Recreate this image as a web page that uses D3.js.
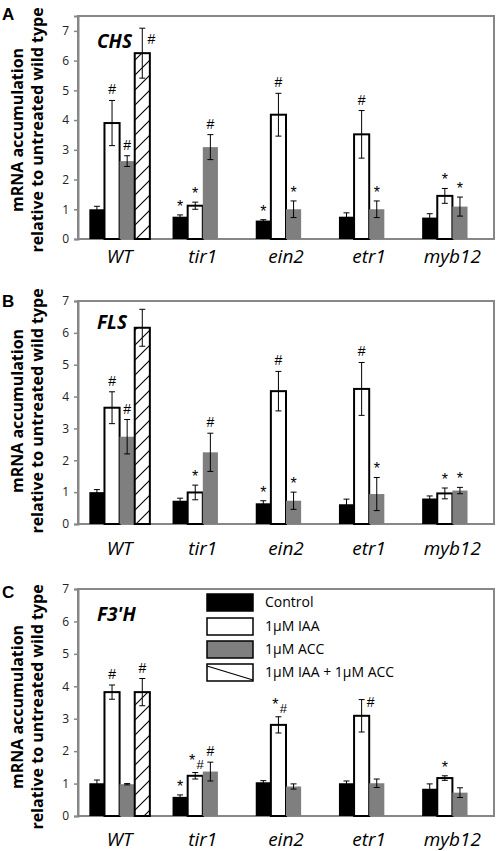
<!DOCTYPE html>
<html><head><meta charset="utf-8">
<script src="https://cdn.jsdelivr.net/npm/d3@7"></script>
<style>body{margin:0;background:#fff} svg{display:block}</style>
</head><body>
<script>
// ---------------- DATA ----------------
const categories = ["WT", "tir1", "ein2", "etr1", "myb12"];
const seriesNames = ["Control", "1\u03bcM IAA", "1\u03bcM ACC", "1\u03bcM IAA + 1\u03bcM ACC"];
const yTicks = [0, 1, 2, 3, 4, 5, 6, 7];
const panelLetters = ["A", "B", "C"];
const geneNames = ["CHS", "FLS", "F3'H"];

// Panel A : CHS
const chsControl = [1.00, 0.75, 0.62, 0.75, 0.72];
const chsControlErr = [0.10, 0.06, 0.03, 0.13, 0.13];
const chsIAA = [3.90, 1.12, 4.18, 3.52, 1.45];
const chsIAAErr = [0.76, 0.12, 0.72, 0.80, 0.25];
const chsACC = [2.62, 3.09, 1.00, 1.00, 1.09];
const chsACCErr = [0.18, 0.42, 0.28, 0.28, 0.32];
const chsBoth = [6.25, null, null, null, null];
const chsBothErr = [0.84, null, null, null, null];
const chsMarks = [["", "*", "*", "", ""], ["#", "*", "#", "#", "*"], ["#", "#", "*", "*", "*"], ["#", "", "", "", ""]];

// Panel B : FLS
const flsControl = [1.00, 0.73, 0.65, 0.62, 0.80];
const flsControlErr = [0.08, 0.08, 0.08, 0.16, 0.08];
const flsIAA = [3.65, 0.99, 4.17, 4.24, 0.96];
const flsIAAErr = [0.50, 0.23, 0.62, 0.83, 0.17];
const flsACC = [2.74, 2.25, 0.73, 0.94, 1.05];
const flsACCErr = [0.54, 0.60, 0.27, 0.52, 0.10];
const flsBoth = [6.16, null, null, null, null];
const flsBothErr = [0.58, null, null, null, null];
const flsMarks = [["", "", "*", "", ""], ["#", "*", "#", "#", "*"], ["#", "#", "*", "*", "*"], ["", "", "", "", ""]];

// Panel C : F3'H
const f3hControl = [1.01, 0.59, 1.04, 1.01, 0.84];
const f3hControlErr = [0.10, 0.06, 0.05, 0.07, 0.15];
const f3hIAA = [3.82, 1.24, 2.81, 3.09, 1.17];
const f3hIAAErr = [0.22, 0.10, 0.25, 0.50, 0.07];
const f3hACC = [0.98, 1.37, 0.91, 1.01, 0.72];
const f3hACCErr = [0.02, 0.29, 0.08, 0.13, 0.15];
const f3hBoth = [3.82, null, null, null, null];
const f3hBothErr = [0.42, null, null, null, null];
const f3hMarks = [["", "*", "", "", ""], ["#", "*#", "*#", "#", "*"], ["", "#", "", "", ""], ["#", "", "", "", ""]];

// ---------------- LAYOUT ----------------
const W = 498, H = 851;
const plotLeft = 78, plotRight = 494;
const fills = ["#000000", "#ffffff", "#7f7f7f", "url(#hatch)"];
const strokes = ["none", "#000", "none", "#000"];

const panels = [
  { values: [chsControl, chsIAA, chsACC, chsBoth], errs: [chsControlErr, chsIAAErr, chsACCErr, chsBothErr], marks: chsMarks,
    top: 16, bottom: 239, max: 7.5, letterY: 20, geneY: 48, catY: 263, titleY: 130 },
  { values: [flsControl, flsIAA, flsACC, flsBoth], errs: [flsControlErr, flsIAAErr, flsACCErr, flsBothErr], marks: flsMarks,
    top: 301, bottom: 524, max: 7, letterY: 307, geneY: 329, catY: 555, titleY: 411 },
  { values: [f3hControl, f3hIAA, f3hACC, f3hBoth], errs: [f3hControlErr, f3hIAAErr, f3hACCErr, f3hBothErr], marks: f3hMarks,
    top: 589, bottom: 816, max: 7, letterY: 598, geneY: 621, catY: 846, titleY: 707, legend: true }
];
// special placement of a few significance marks (panel-category-series)
const markShift = { "0-0-3": { dx: 9, dy: 16 }, "2-3-1": { dx: 9, dy: 7 } };

const svg = d3.select("body").append("svg").attr("width", W).attr("height", H);
const defs = svg.append("defs");
const pat = defs.append("pattern").attr("id", "hatch").attr("patternUnits", "userSpaceOnUse")
  .attr("width", 15).attr("height", 15);
pat.append("rect").attr("width", 15).attr("height", 15).attr("fill", "#fff");
pat.append("path").attr("d", "M-3,18 L18,-3 M-3,3 L3,-3 M12,18 L18,12")
  .attr("stroke", "#000").attr("stroke-width", 1.1);

const x0 = d3.scaleBand().domain(categories).range([plotLeft, plotRight]).paddingInner(0).paddingOuter(0);
const x1 = d3.scaleBand().domain(d3.range(4)).range([0, x0.bandwidth()]).paddingInner(0).paddingOuter(0.75);

panels.forEach((p, pi) => {
  const g = svg.append("g");
  const y = d3.scaleLinear().domain([0, p.max]).range([p.bottom, p.top]);

  // frame
  g.append("rect").attr("x", plotLeft).attr("y", p.top).attr("width", plotRight - plotLeft)
    .attr("height", p.bottom - p.top).attr("fill", "none").attr("stroke", "#878787").attr("stroke-width", 2);

  // y axis
  const ax = g.append("g").attr("transform", `translate(${plotLeft},0)`)
    .call(d3.axisLeft(y).tickValues(yTicks).tickSize(4).tickPadding(5).tickFormat(d3.format("d")));
  ax.select(".domain").attr("stroke", "#878787").attr("stroke-width", 2);
  ax.selectAll(".tick line").attr("stroke", "#878787").attr("stroke-width", 1.5);
  ax.selectAll(".tick text").attr("font-family", "Open Sans").attr("font-size", 12).attr("fill", "#222");

  // bars
  p.values.forEach((vals, si) => {
    vals.forEach((v, ci) => {
      if (v == null) return;
      const bx = x0(categories[ci]) + x1(si);
      const bw = x1.bandwidth();
      g.append("rect").attr("x", bx).attr("y", y(v)).attr("width", bw).attr("height", y(0) - y(v))
        .attr("fill", fills[si]).attr("stroke", strokes[si]).attr("stroke-width", 2);
    });
  });
  // error bars and marks
  p.values.forEach((vals, si) => {
    vals.forEach((v, ci) => {
      if (v == null) return;
      const e = p.errs[si][ci];
      const cx = x0(categories[ci]) + x1(si) + x1.bandwidth() / 2;
      const yT = y(v + e), yB = y(v - e);
      g.append("path").attr("d", `M${cx},${yT}V${yB}M${cx - 3},${yT}H${cx + 3}M${cx - 3},${yB}H${cx + 3}`)
        .attr("stroke", "#000").attr("stroke-width", 1).attr("fill", "none");
      const m = p.marks[si][ci];
      if (!m) return;
      const key = `${pi}-${ci}-${si}`;
      const mt = g.append("g").attr("font-family", "Liberation Sans").attr("fill", "#000");
      if (m === "*#") {
        mt.append("text").attr("x", cx - 3).attr("y", yT - 7).attr("text-anchor", "middle").attr("font-size", 16).text("*");
        mt.append("text").attr("x", cx + 5).attr("y", yT - 4).attr("text-anchor", "middle").attr("font-size", 13).text("#");
      } else {
        const s = markShift[key];
        const dx = s ? s.dx : 0;
        const by = s ? yT + s.dy : (m === "*" ? yT - 3 : yT - 6);
        mt.append("text").attr("x", cx + dx).attr("y", by).attr("text-anchor", "middle")
          .attr("font-size", m === "#" ? 14 : 16).text(m);
      }
    });
  });

  // category labels
  g.selectAll(".cat").data(categories).enter().append("text")
    .attr("x", d => x0(d) + x0.bandwidth() / 2).attr("y", p.catY)
    .attr("text-anchor", "middle").attr("font-family", "Open Sans").attr("font-style", "italic")
    .attr("font-size", 19).attr("fill", "#000").text(d => d);

  // gene name
  g.append("text").attr("x", 97).attr("y", p.geneY).attr("font-family", "Open Sans")
    .attr("font-weight", "bold").attr("font-style", "italic").attr("font-size", 19).text(geneNames[pi]);

  // panel letter
  g.append("text").attr("x", 2).attr("y", p.letterY).attr("font-family", "Liberation Sans")
    .attr("font-weight", "bold").attr("font-size", 17).text(panelLetters[pi]);

  // y title
  const tt = g.append("text").attr("transform", `translate(0,${p.titleY}) rotate(-90)`)
    .attr("text-anchor", "middle").attr("font-family", "Open Sans").attr("font-weight", "bold").attr("font-size", 16);
  tt.append("tspan").attr("x", 0).attr("y", 23).text("mRNA accumulation");
  tt.append("tspan").attr("x", 0).attr("y", 43).text("relative to untreated wild type");

  // legend
  if (p.legend) {
    const lg = g.append("g");
    const rowY = [594, 618, 641, 664];
    seriesNames.forEach((s, si) => {
      lg.append("rect").attr("x", 207).attr("y", rowY[si]).attr("width", 46).attr("height", 17)
        .attr("fill", si === 3 ? "#fff" : fills[si]).attr("stroke", "#000").attr("stroke-width", 1.5);
      if (si === 3) {
        lg.append("line").attr("x1", 207).attr("y1", rowY[si] + 2).attr("x2", 253).attr("y2", rowY[si] + 16)
          .attr("stroke", "#000").attr("stroke-width", 1.2);
      }
      lg.append("text").attr("x", 265).attr("y", rowY[si] + 13).attr("font-family", "Open Sans")
        .attr("font-size", 14).attr("fill", "#000").text(s);
    });
  }
});
</script>
</body></html>
